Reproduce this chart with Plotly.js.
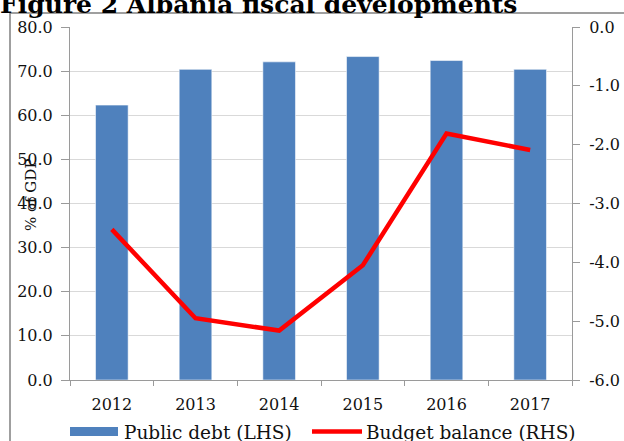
<!DOCTYPE html>
<html>
<head>
<meta charset="utf-8">
<script src="https://cdn.plot.ly/plotly-3.0.1.min.js"></script>
<style>
html,body{margin:0;padding:0;background:#fff;}
#chart{width:624px;height:441px;}
</style>
</head>
<body>
<div id="chart"></div>
<script>
const years = ['2012', '2013', '2014', '2015', '2016', '2017'];
const publicDebt = [62.3, 70.4, 72.1, 73.3, 72.4, 70.4];
const budgetBalance = [-3.44, -4.95, -5.16, -4.05, -1.81, -2.09];
const leftTicks = [0, 10, 20, 30, 40, 50, 60, 70, 80];
const leftTickLabels = ['0.0', '10.0', '20.0', '30.0', '40.0', '50.0', '60.0', '70.0', '80.0'];
const rightTicks = [-6, -5, -4, -3, -2, -1, 0];
const rightTickLabels = ['-6.0', '-5.0', '-4.0', '-3.0', '-2.0', '-1.0', '0.0'];
const titleText = 'Figure 2 Albania fiscal developments';
const yTitleText = '% of GDP';
const debtName = 'Public debt (LHS)';
const balanceName = 'Budget balance (RHS)';

const serif = 'DejaVu Serif';
const W = 624, H = 441;
const M = {l: 70, r: 52, t: 27, b: 61};
const pw = W - M.l - M.r, ph = H - M.t - M.b;
const px = x => (x - M.l) / pw;
const py = y => (H - M.b - y) / ph;

const traces = [
  {
    type: 'bar', x: years, y: publicDebt, name: debtName,
    marker: {color: '#4F81BD', line: {color: 'rgba(255,255,255,0.55)', width: 1}},
    yaxis: 'y', showlegend: false
  },
  {
    type: 'scatter', mode: 'lines', x: years, y: budgetBalance, name: balanceName,
    line: {color: '#FF0000', width: 4.5}, yaxis: 'y2', showlegend: false
  }
];

const axisColor = '#9a9a9a';
const txt = '#111';
const layout = {
  width: W, height: H,
  margin: M,
  paper_bgcolor: '#fff', plot_bgcolor: '#fff',
  font: {family: serif, color: txt, size: 16},
  title: {
    text: '<b>' + titleText + '</b>',
    font: {family: serif, size: 25, color: '#000'},
    x: 0, xref: 'container', xanchor: 'left',
    y: 1 - 4 / H, yref: 'container', yanchor: 'middle', pad: {t: 0, b: 0, l: 0, r: 0}
  },
  bargap: 0.61,
  xaxis: {
    type: 'category', showgrid: false, showline: true, linecolor: axisColor, linewidth: 1,
    ticks: 'outside', tickson: 'boundaries', ticklen: 5, tickcolor: axisColor,
    tickfont: {family: serif, size: 16, color: txt}, ticklabelstandoff: 10,
    zeroline: false
  },
  yaxis: {
    range: [0, 80], tickvals: leftTicks, ticktext: leftTickLabels,
    showgrid: true, gridcolor: '#D9D9D9', gridwidth: 1,
    showline: true, linecolor: axisColor, linewidth: 1,
    ticks: 'outside', ticklen: 8, tickcolor: axisColor,
    tickfont: {family: serif, size: 16, color: txt}, ticklabelstandoff: 5,
    zeroline: false
  },
  yaxis2: {
    range: [-6, 0], tickvals: rightTicks, ticktext: rightTickLabels,
    overlaying: 'y', side: 'right', showgrid: false,
    showline: true, linecolor: axisColor, linewidth: 1,
    ticks: 'outside', ticklen: 7, tickcolor: axisColor,
    tickfont: {family: serif, size: 16, color: txt}, ticklabelstandoff: 6,
    zeroline: false
  },
  shapes: [
    {type: 'rect', xref: 'paper', yref: 'paper',
     x0: px(10), x1: px(640), y0: py(13), y1: py(460),
     line: {color: '#808080', width: 1.5}, fillcolor: 'rgba(0,0,0,0)', layer: 'below'},
    {type: 'rect', xref: 'paper', yref: 'paper',
     x0: px(70), x1: px(118), y0: py(427), y1: py(436),
     line: {width: 0}, fillcolor: '#4F81BD'},
    {type: 'line', xref: 'paper', yref: 'paper',
     x0: px(312), x1: px(362), y0: py(431.5), y1: py(431.5),
     line: {color: '#FF0000', width: 4.5}}
  ],
  annotations: [
    {text: yTitleText, xref: 'paper', yref: 'paper', x: px(31), y: py(195),
     textangle: -90, showarrow: false, xanchor: 'center', yanchor: 'middle',
     font: {family: serif, size: 15, color: txt}},
    {text: debtName, xref: 'paper', yref: 'paper', x: px(122), y: py(432),
     showarrow: false, xanchor: 'left', yanchor: 'middle',
     font: {family: serif, size: 18.5, color: txt}},
    {text: balanceName, xref: 'paper', yref: 'paper', x: px(364), y: py(432),
     showarrow: false, xanchor: 'left', yanchor: 'middle',
     font: {family: serif, size: 18.5, color: txt}}
  ]
};

Plotly.newPlot('chart', traces, layout, {displayModeBar: false, staticPlot: true});
</script>
</body>
</html>
